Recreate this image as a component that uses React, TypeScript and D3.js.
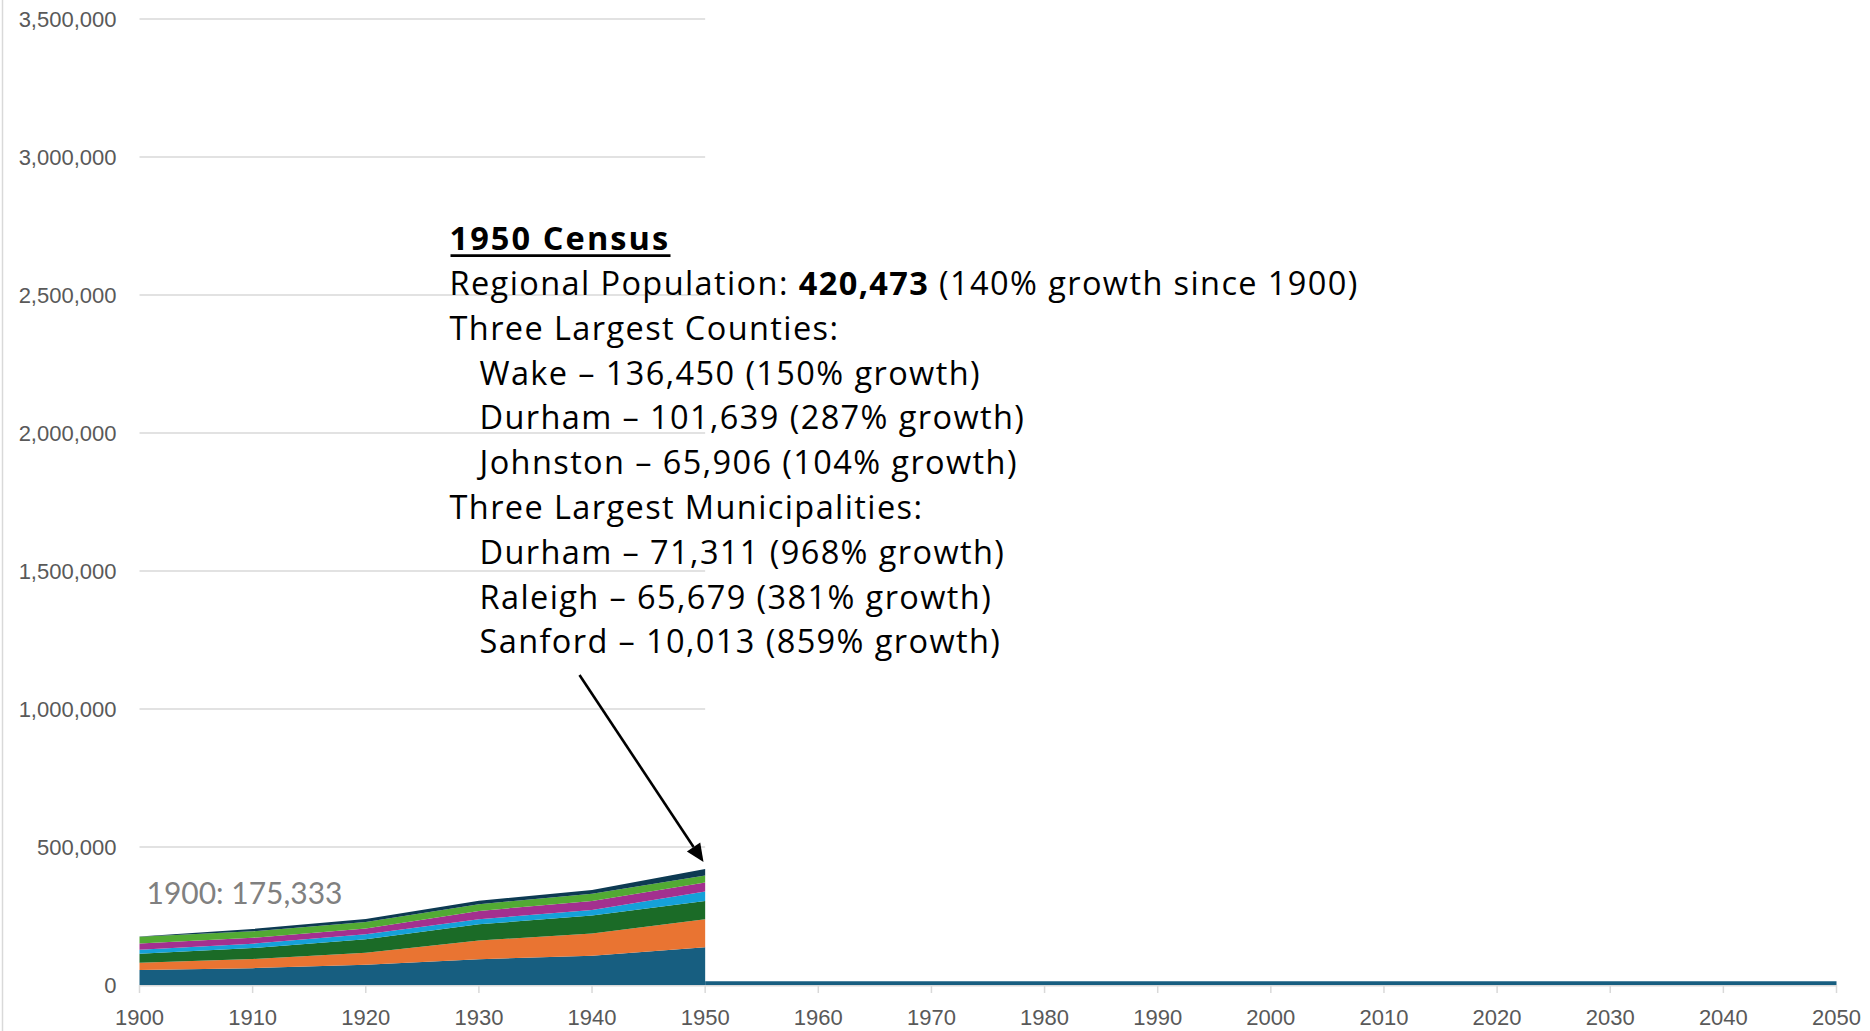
import React from "react";
import * as d3 from "d3";

const years = [1900, 1910, 1920, 1930, 1940, 1950];
const seriesNames = ["Wake", "Durham", "Johnston", "Orange", "Granville", "Chatham", "Lee"];
const wake = [54626, 61000, 73000, 93500, 106000, 136450];
const durham = [26233, 33000, 44000, 67500, 81000, 101639];
const johnston = [32250, 40000, 48500, 59000, 64500, 65906];
const orange = [15000, 15500, 18000, 18500, 20500, 34435];
const granville = [22000, 21500, 21500, 30000, 32000, 33000];
const chatham = [25000, 23500, 23000, 24000, 27000, 25000];
const lee = [224, 8500, 11000, 12500, 13000, 24043];
const seriesColors = ["#175e80", "#e97432", "#1b6b27", "#15a1d9", "#a3308f", "#52aa33", "#0d3a52"];

const futureYears = [1950, 2050];
const futureValues = [14000, 14000];

const xTicks = d3.range(1900, 2051, 10);
const yTicks = [0, 500000, 1000000, 1500000, 2000000, 2500000, 3000000, 3500000];

const titleLine = "1950 Census";
const bodyLines: { text: string; indent: boolean; bold?: string; after?: string }[] = [
  { text: "Regional Population: ", indent: false, bold: "420,473", after: " (140% growth since 1900)" },
  { text: "Three Largest Counties:", indent: false },
  { text: "Wake \u2013 136,450 (150% growth)", indent: true },
  { text: "Durham \u2013 101,639 (287% growth)", indent: true },
  { text: "Johnston \u2013 65,906 (104% growth)", indent: true },
  { text: "Three Largest Municipalities:", indent: false },
  { text: "Durham \u2013 71,311 (968% growth)", indent: true },
  { text: "Raleigh \u2013 65,679 (381% growth)", indent: true },
  { text: "Sanford \u2013 10,013 (859% growth)", indent: true },
];
const startLabel = "1900: 175,333";

export default function App() {
  const W = 1870, H = 1031;
  const x = d3.scaleLinear().domain([1900, 2050]).range([139.5, 1836.5]);
  const y = d3.scaleLinear().domain([0, 3500000]).range([985, 19]);
  const allSeries = [wake, durham, johnston, orange, granville, chatham, lee];
  const table = years.map((yr, i) => {
    const row: any = { year: yr };
    seriesNames.forEach((n, k) => (row[n] = allSeries[k][i]));
    return row;
  });
  const stacked = d3.stack<any>().keys(seriesNames)(table);
  const area = d3
    .area<any>()
    .x((d) => x(d.data.year))
    .y0((d) => y(d[0]))
    .y1((d) => y(d[1]));
  const futureArea = d3
    .area<number>()
    .x((_, i) => x(futureYears[i]))
    .y0(() => y(0))
    .y1((d) => y(d));
  const fmt = d3.format(",");
  const font = "'Open Sans', Lato, sans-serif";
  const labelFont = "Lato, 'Open Sans', sans-serif";
  const axisFont = "'Liberation Sans', Arial, sans-serif";
  const textX = 449.5;
  const indentX = 479.5;
  const lineY0 = 250.3;
  const lineGap = 44.78;
  const fs = 32.5;
  const ls = 1.4;

  // arrow
  const ax1 = 579.5, ay1 = 675, ax2 = 703.5, ay2 = 862;
  const ang = Math.atan2(ay2 - ay1, ax2 - ax1);
  const hl = 18, hw = 8;
  const bx = ax2 - hl * Math.cos(ang), by = ay2 - hl * Math.sin(ang);
  const head = [
    [ax2, ay2],
    [bx + hw * Math.sin(ang), by - hw * Math.cos(ang)],
    [bx - hw * Math.sin(ang), by + hw * Math.cos(ang)],
  ];

  return (
    <svg width={W} height={H} style={{ position: "absolute", left: 0, top: 0, display: "block", background: "#fff" }}>
      <line x1={2.5} x2={2.5} y1={0} y2={H} stroke="#d9d9d9" strokeWidth={1.5} />
      {yTicks.map((t) => (
        <g key={t}>
          {t > 0 && (
            <line x1={x(1900)} x2={x(1950)} y1={y(t)} y2={y(t)} stroke="#d9d9d9" strokeWidth={1.5} />
          )}
          <text x={116.5} y={y(t) + 7.5} textAnchor="end" fontFamily={axisFont} fontSize={22} fill="#595959">
            {fmt(t)}
          </text>
        </g>
      ))}
      {stacked.map((s, k) => (
        <path key={s.key} d={area(s) || ""} fill={seriesColors[k]} />
      ))}
      <path d={futureArea(futureValues) || ""} fill={seriesColors[0]} />
      <line x1={x(1900)} x2={x(2050)} y1={y(0) + 0.75} y2={y(0) + 0.75} stroke="#d9d9d9" strokeWidth={1.5} />
      {xTicks.map((t) => (
        <g key={t}>
          <line x1={x(t)} x2={x(t)} y1={y(0)} y2={y(0) + 8} stroke="#d9d9d9" strokeWidth={1.5} />
          <text x={x(t)} y={1025} textAnchor="middle" fontFamily={axisFont} fontSize={22} fill="#595959">
            {t}
          </text>
        </g>
      ))}
      <text x={146.5} y={903.5} fontFamily={labelFont} fontSize={30} fill="#808080">
        {startLabel}
      </text>
      <text x={textX} y={lineY0} fontFamily={font} fontSize={fs} fontWeight={700} letterSpacing={2.1} fill="#000">
        {titleLine}
      </text>
      <line x1={textX + 1} x2={textX + 221} y1={255.6} y2={255.6} stroke="#000" strokeWidth={2.7} />
      {bodyLines.map((l, i) => (
        <text key={i} x={l.indent ? indentX : textX} y={lineY0 + (i + 1) * lineGap} fontFamily={font} fontSize={fs} letterSpacing={ls} fill="#000">
          {l.text}
          {l.bold && <tspan fontWeight={700}>{l.bold}</tspan>}
          {l.after && <tspan>{l.after}</tspan>}
        </text>
      ))}
      <line x1={ax1} y1={ay1} x2={bx} y2={by} stroke="#000" strokeWidth={2.6} />
      <polygon points={head.map((p) => p.join(",")).join(" ")} fill="#000" />
    </svg>
  );
}
